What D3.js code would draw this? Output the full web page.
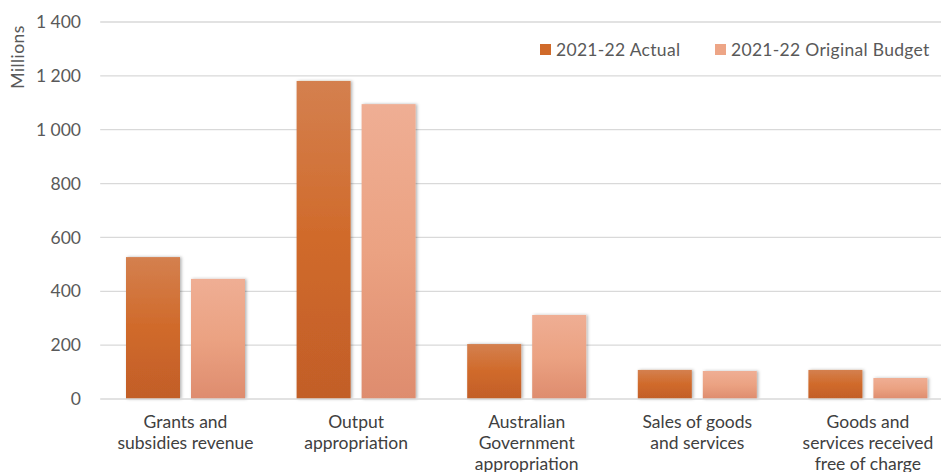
<!DOCTYPE html>
<html><head><meta charset="utf-8">
<script src="https://cdn.jsdelivr.net/npm/d3@7"></script>
<style>body{margin:0;background:#fff;overflow:hidden}text{font-family:Lato,sans-serif}</style>
</head><body><svg id="c" width="941" height="472"></svg>
<script>
const categories = [["Grants and","subsidies revenue"],["Output","appropriation"],["Australian","Government","appropriation"],["Sales of goods","and services"],["Goods and","services received","free of charge"]];
const seriesNames = ["2021-22 Actual","2021-22 Original Budget"];
const actual = [527, 1181, 204, 108, 108];
const budget = [446, 1095, 312, 104, 78];
const yTicks = [0,200,400,600,800,1000,1200,1400];
const fmt = v => v >= 1000 ? Math.floor(v/1000) + " " + String(v%1000).padStart(3,"0") : String(v);

const svg = d3.select("#c");
const m = {l:100.2, t:22, b:399};
const plotW = 853;
const x = d3.scaleBand().domain(d3.range(categories.length)).range([m.l, m.l+plotW]).paddingInner(0).paddingOuter(0);
const y = d3.scaleLinear().domain([0,1400]).range([m.b, m.t]);

const defs = svg.append("defs");
const g1 = defs.append("linearGradient").attr("id","ga").attr("x1",0).attr("y1",0).attr("x2",0).attr("y2",1);
g1.append("stop").attr("offset","0%").attr("stop-color","#d4804f");
g1.append("stop").attr("offset","50%").attr("stop-color","#d06a2a");
g1.append("stop").attr("offset","100%").attr("stop-color","#c25e28");
const g2 = defs.append("linearGradient").attr("id","gb").attr("x1",0).attr("y1",0).attr("x2",0).attr("y2",1);
g2.append("stop").attr("offset","0%").attr("stop-color","#efae94");
g2.append("stop").attr("offset","50%").attr("stop-color","#eba282");
g2.append("stop").attr("offset","100%").attr("stop-color","#de8c6e");
const f = defs.append("filter").attr("id","sh").attr("x","-20%").attr("y","-20%").attr("width","140%").attr("height","140%");
f.append("feDropShadow").attr("dx",1.5).attr("dy",0).attr("stdDeviation",1.5).attr("flood-color","#000").attr("flood-opacity",0.3);

// gridlines
svg.append("g").selectAll("line").data(yTicks.filter(d=>d>0)).join("line")
  .attr("x1", m.l).attr("x2", 941).attr("y1", d=>y(d)).attr("y2", d=>y(d))
  .attr("stroke","#d9d9d9").attr("stroke-width",1.3);

// tick labels
svg.append("g").selectAll("text").data(yTicks).join("text")
  .attr("x", 81).attr("y", d=>y(d)).attr("dy","0.35em").attr("text-anchor","end")
  .attr("font-size",17.5).attr("fill","#595959").text(fmt);

// y title
svg.append("text").attr("transform","translate(24,57) rotate(-90)").attr("text-anchor","middle")
  .attr("font-size",17.5).attr("letter-spacing",0.4).attr("fill","#595959").text("Millions");

const barW = 54, gap = 11;
const data = [actual, budget];
const fills = ["url(#ga)","url(#gb)"];
data.forEach((vals, si) => {
  svg.append("g").selectAll("rect").data(vals).join("rect")
    .attr("x", (d,i) => x(i) + x.bandwidth()/2 + (si===0 ? -gap/2 - barW : gap/2))
    .attr("width", barW)
    .attr("y", d => y(d)).attr("height", d => y(0)-y(d))
    .attr("fill", fills[si]).attr("filter","url(#sh)");
});

// baseline
svg.append("line").attr("x1", m.l).attr("x2", 941).attr("y1", y(0)).attr("y2", y(0))
  .attr("stroke","#d9d9d9").attr("stroke-width",1.5);

// category labels
const cl = svg.append("g").selectAll("text").data(categories).join("text")
  .attr("text-anchor","middle").attr("font-size",17.5).attr("fill","#404040");
cl.each(function(lines, i){
  const t = d3.select(this);
  lines.forEach((ln, k) => {
    t.append("tspan").attr("x", x(i)+x.bandwidth()/2).attr("y", 428 + k*21).text(ln);
  });
});

// legend
const lg = svg.append("g");
const lx = [540, 715];
seriesNames.forEach((n, i) => {
  lg.append("rect").attr("x", lx[i]).attr("y", 44).attr("width", 11).attr("height", 11).attr("fill", i===0?"#d06a2a":"#eda586");
  lg.append("text").attr("x", lx[i]+16).attr("y", 50).attr("dy","0.35em").attr("font-size",17.5).attr("letter-spacing",0.3).attr("fill","#595959").text(n);
});
</script></body></html>
